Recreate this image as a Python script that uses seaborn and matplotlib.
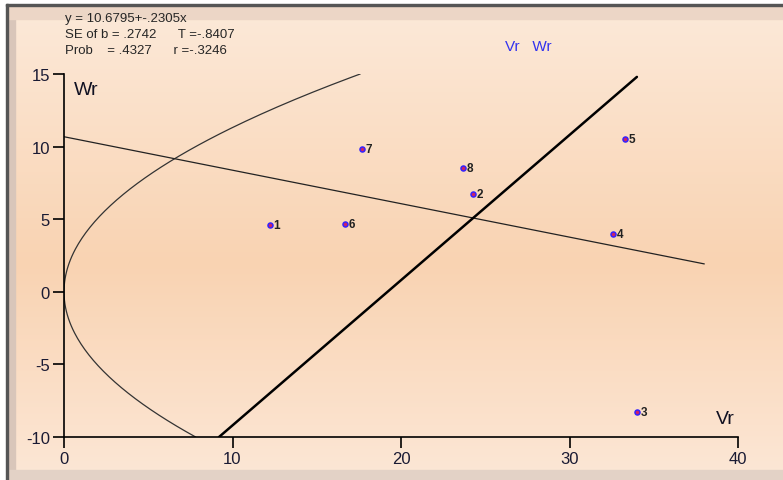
import numpy as np
import matplotlib.pyplot as plt
import seaborn as sns
import pandas as pd
from matplotlib.patches import Rectangle

# Vr-Wr graph data (array numbers 1..8)
array_ids = ['1', '2', '3', '4', '5', '6', '7', '8']
vr = [12.2, 24.3, 34.0, 32.6, 33.3, 16.7, 17.7, 23.7]
wr = [4.6, 6.75, -8.3, 4.0, 10.5, 4.7, 9.85, 8.5]

# regression  y = a + b x
reg_a = 10.6795
reg_b = -0.2305
reg_x_end = 38.0
# limiting parabola Wr^2 = k * Vr
parab_k = 12.8
# unit slope line Wr = Vr - c
unit_c = 19.2
unit_x_end = 34.0

x_ticks = [0, 10, 20, 30, 40]
y_ticks = [-10, -5, 0, 5, 10, 15]

W, H = 783, 481
sns.set_style("white")
plt.rcParams['font.family'] = ['Liberation Sans', 'DejaVu Sans']
plt.rcParams['axes.unicode_minus'] = False

fig = plt.figure(figsize=(W / 100, H / 100), dpi=100)

# background gradient panel
bg = fig.add_axes([0, 0, 1, 1], zorder=-2)
rows = np.linspace(0, 1, 200)
top = np.array([252, 234, 218]) / 255
mid = np.array([249, 211, 178]) / 255
bot = np.array([252, 231, 214]) / 255
grad = np.zeros((200, 1, 3))
for i, t in enumerate(rows):
    if t < 0.55:
        c = top + (mid - top) * (t / 0.55)
    else:
        c = mid + (bot - mid) * ((t - 0.55) / 0.45)
    grad[i, 0] = c
bg.imshow(grad, aspect='auto', extent=[0, 1, 0, 1], origin='upper')
bg.set_xlim(0, 1)
bg.set_ylim(0, 1)
bg.axis('off')
# frame: white outside, dark edge, grayish inner band
px = lambda v: v / W
py = lambda v: 1 - v / H
bg.add_patch(Rectangle((0, py(5)), 1, 5 / H, color='white', zorder=3))
bg.add_patch(Rectangle((0, 0), px(6), 1, color='white', zorder=3))
bg.add_patch(Rectangle((px(6), 0), px(2), py(5), color='#555555', zorder=3))
bg.add_patch(Rectangle((px(6), py(7)), 1, 2 / H, color='#555555', zorder=3))
bg.add_patch(Rectangle((px(8), 0), px(7), py(7), color='#d9c6ba', zorder=2))
bg.add_patch(Rectangle((px(8), py(20)), 1, 13 / H, color='#ecd6c6', zorder=2))
bg.add_patch(Rectangle((px(8), 0), 1, 10 / H, color='#e3d2c6', zorder=2))

ax = fig.add_axes([64 / W, 1 - 438 / H, 674 / W, 363 / H])
ax.set_facecolor('none')

# limiting parabola
w_curve = np.linspace(-10, 15, 200)
parab = pd.DataFrame({'Vr': w_curve ** 2 / parab_k, 'Wr': w_curve})
ax.plot(parab['Vr'], parab['Wr'], color='#333333', lw=0.9)

# regression line
reg = pd.DataFrame({'Vr': [0, reg_x_end]})
reg['Wr'] = reg_a + reg_b * reg['Vr']
sns.lineplot(data=reg, x='Vr', y='Wr', ax=ax, color='#222222', lw=0.9)

# unit slope line
unit = pd.DataFrame({'Vr': [unit_c - 10, unit_x_end]})
unit['Wr'] = unit['Vr'] - unit_c
sns.lineplot(data=unit, x='Vr', y='Wr', ax=ax, color='black', lw=1.8)

# array points
pts = pd.DataFrame({'Vr': vr, 'Wr': wr, 'id': array_ids})
sns.scatterplot(data=pts, x='Vr', y='Wr', ax=ax, s=13, color='#cc2266',
                edgecolor='#3322ff', linewidth=1.1, zorder=5)
for _, r in pts.iterrows():
    ax.annotate(r['id'], (r['Vr'], r['Wr']), xytext=(2.5, 0), textcoords='offset points',
                va='center', ha='left', fontsize=8.5, color='#222222', fontweight='bold')

ax.set_xlim(0, 40)
ax.set_ylim(-10, 15)
ax.set_xticks(x_ticks)
ax.set_yticks(y_ticks)
ax.tick_params(axis='both', direction='out', length=8, width=1.2, labelsize=12,
               colors='black', labelcolor='#1a1a33', pad=2, left=True, bottom=True)
for s in ['top', 'right']:
    ax.spines[s].set_visible(False)
for s in ['left', 'bottom']:
    ax.spines[s].set_color('black')
    ax.spines[s].set_linewidth(1.2)
ax.set_xlabel('')
ax.set_ylabel('')
ax.text(0.6, 14.5, 'Wr', fontsize=14, va='top', ha='left', color='#111122')
ax.text(39.8, -9.3, 'Vr', fontsize=14, va='bottom', ha='right', color='#111122')

# header text
fig.text(px(65), py(19), 'y = 10.6795+-.2305x', fontsize=9.5, va='center', ha='left')
fig.text(px(65), py(35), 'SE of b = .2742      T =-.8407', fontsize=9.5, va='center', ha='left')
fig.text(px(65), py(51), 'Prob    = .4327      r =-.3246', fontsize=9.5, va='center', ha='left')
fig.text(px(505), py(47), 'Vr   Wr', fontsize=11, va='center', ha='left', color='#3333ee')

fig.savefig('out.png', dpi=100)
